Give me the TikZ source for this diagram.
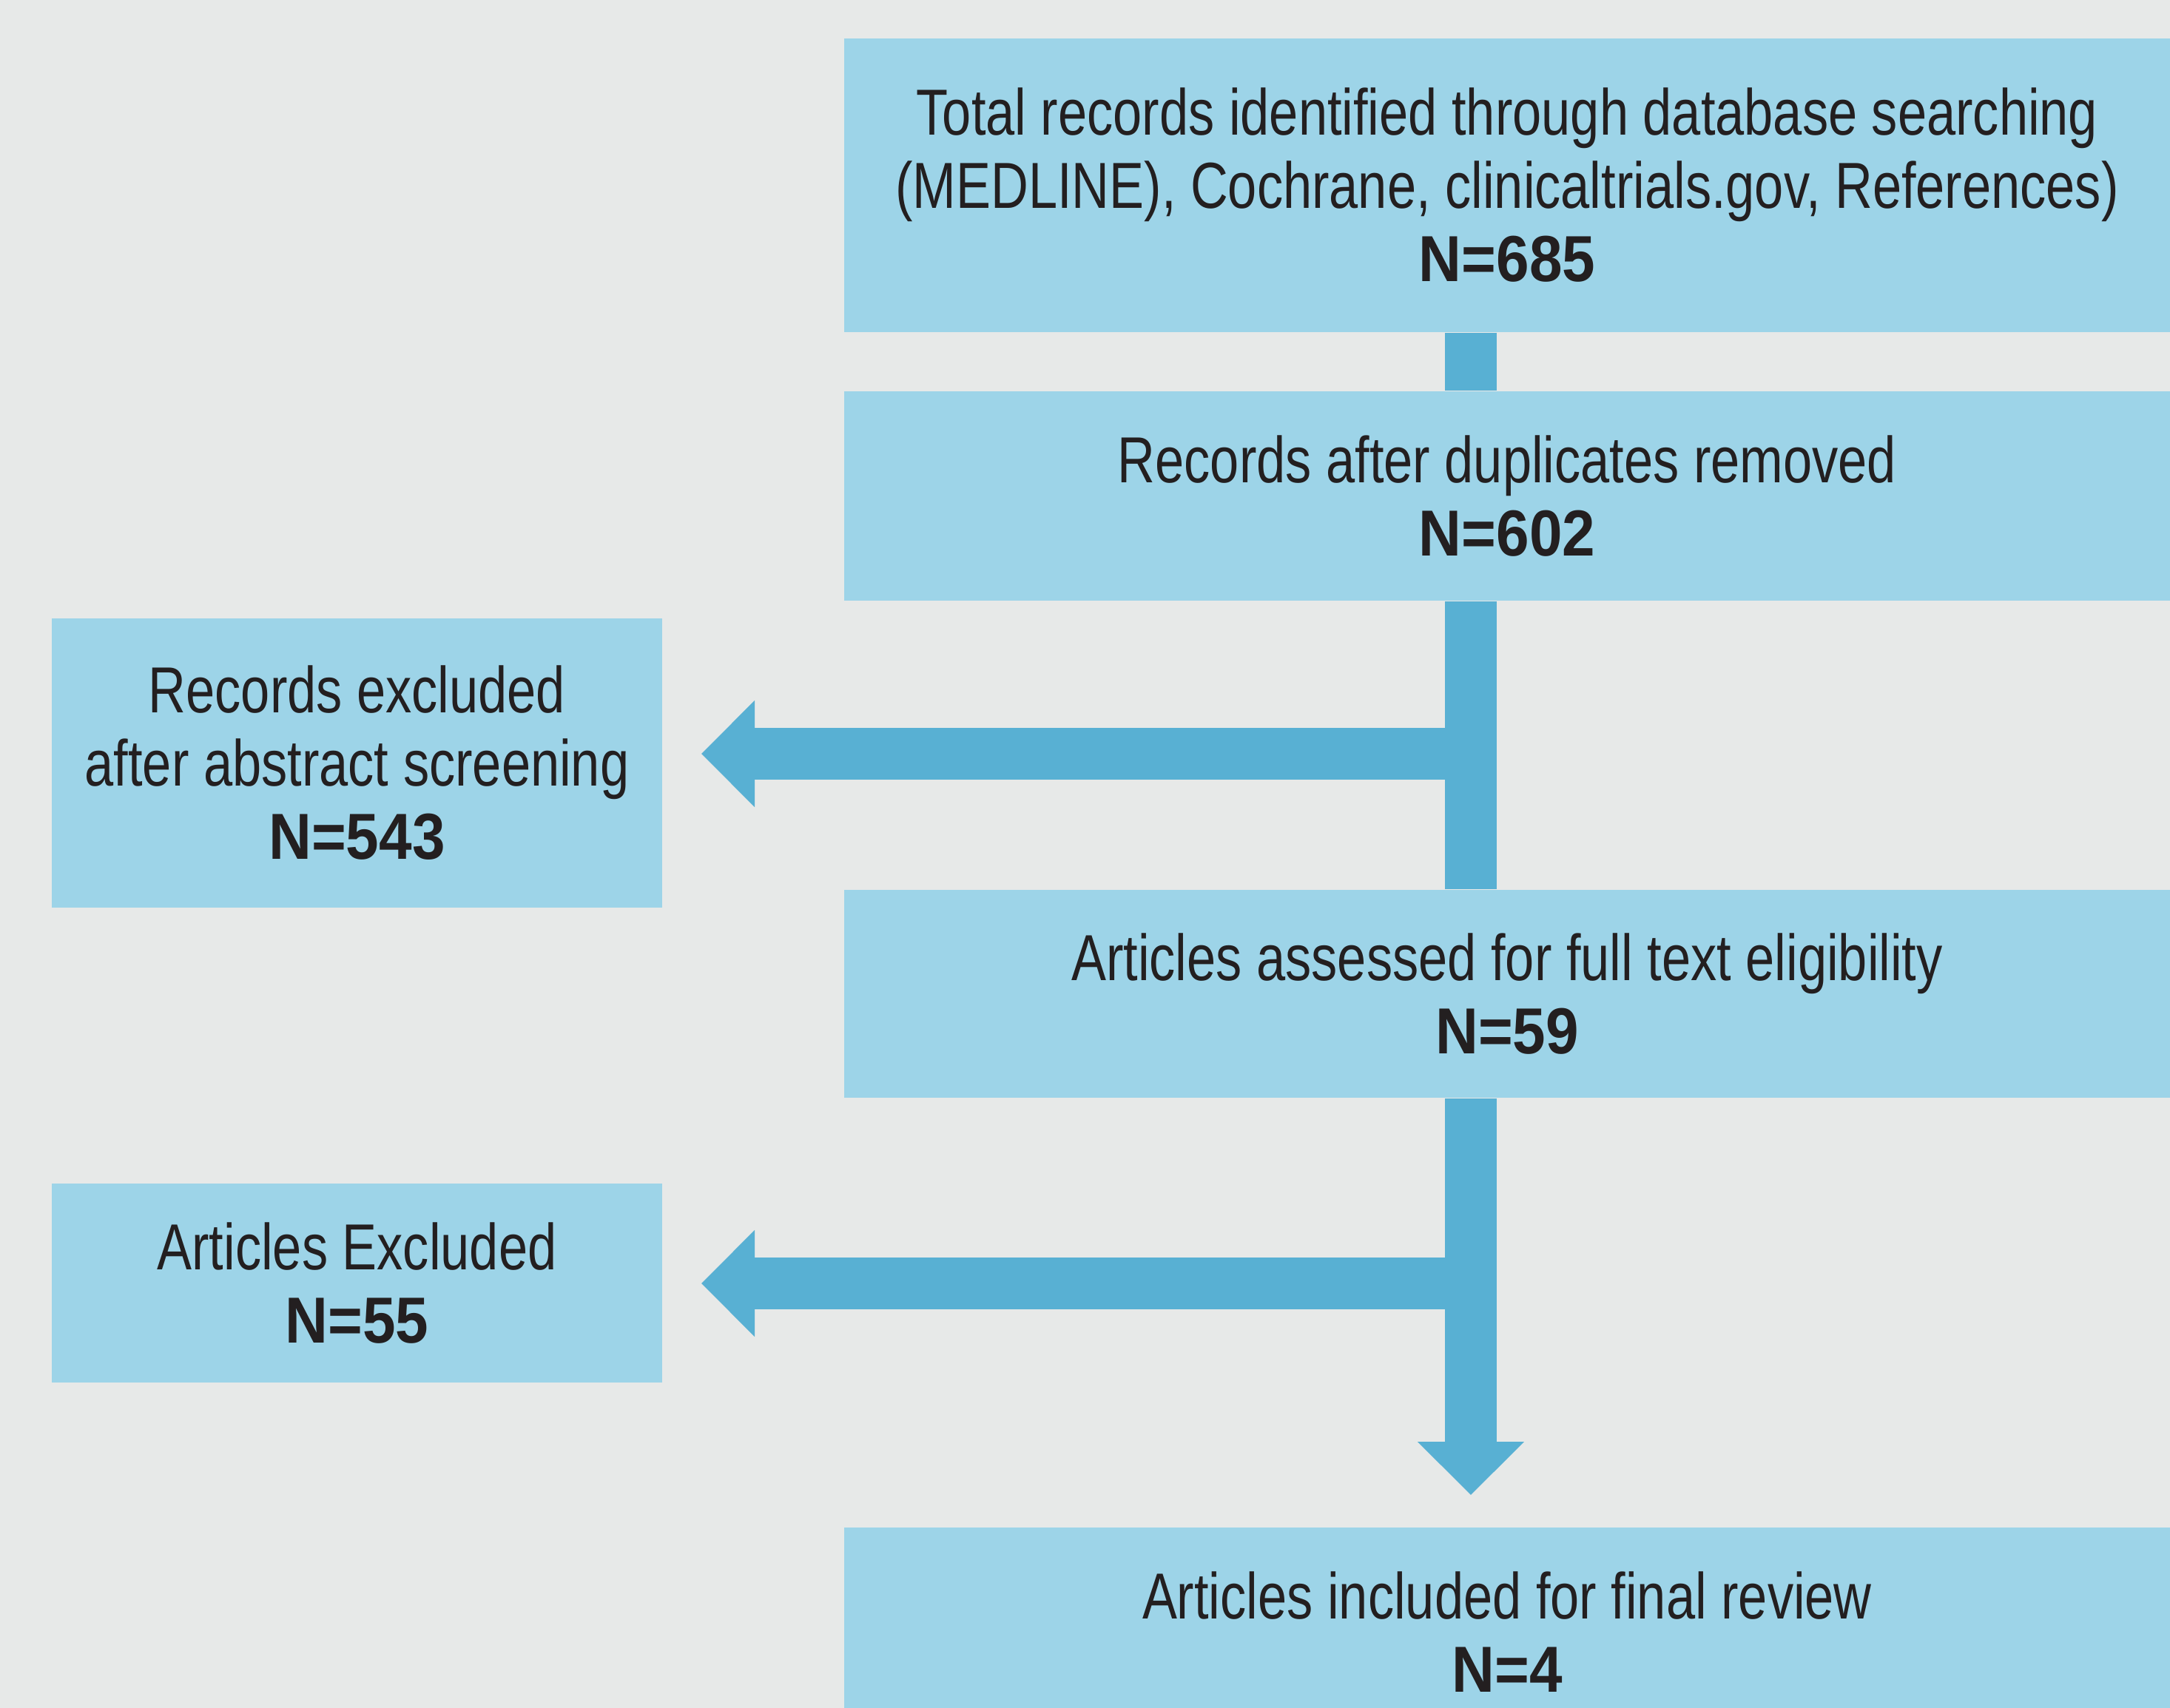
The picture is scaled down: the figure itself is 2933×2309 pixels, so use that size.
\documentclass[tikz,border=0pt]{standalone}
\usepackage{fontspec}
\setmainfont{Liberation Sans}[FakeStretch=0.80]
\newfontfamily\nbf{Liberation Sans}[FakeStretch=0.91]
\usetikzlibrary{fit,arrows.meta}
\definecolor{bg}{RGB}{231,233,232}
\definecolor{boxblue}{RGB}{157,212,232}
\definecolor{arrowblue}{RGB}{88,176,211}
\definecolor{textdark}{RGB}{35,31,32}
\tikzset{
  box/.style={fill=boxblue, draw=none, inner sep=0pt},
  lbl/.style={inner sep=0pt, align=center, text=textdark,
    font=\fontsize{22}{24.75}\selectfont},
  conn/.style={draw=arrowblue, line width=17.5pt, line cap=butt},
  headtip/.style={-{Triangle[width=35pt,length=18pt]}},
}
\newcommand{\bnum}[1]{{\nbf\bfseries #1}}
\begin{document}
\begin{tikzpicture}[x=0.25pt,y=-0.25pt]
\useasboundingbox (0,0) rectangle (2933,2309);
\clip (0,0) rectangle (2933,2309);
\fill[bg] (0,0) rectangle (2933,2309);

\node[box, fit={(1141,52) (2933,449)}] (top) {};
\node[box, fit={(1141,529) (2933,812)}] (dup) {};
\node[box, fit={(70,836) (895,1227)}] (excl1) {};
\node[box, fit={(1141,1203) (2933,1484)}] (assess) {};
\node[box, fit={(70,1600) (895,1869)}] (excl2) {};
\node[box, fit={(1141,2065) (2933,2347)}] (final) {};

\node[lbl] (topl) at (top.center) {Total records identified through database searching\\(MEDLINE), Cochrane, clinicaltrials.gov, References)\\\bnum{N=685}};
\node[lbl] (dupl) at (dup.center) {Records after duplicates removed\\\bnum{N=602}};
\node[lbl] (excl1l) at (excl1.center) {Records excluded\\after abstract screening\\\bnum{N=543}};
\node[lbl] (assessl) at (assess.center) {Articles assessed for full text eligibility\\\bnum{N=59}};
\node[lbl] (excl2l) at (excl2.center) {Articles Excluded\\\bnum{N=55}};
\node[lbl] (finall) at (final.center) {Articles included for final review\\\bnum{N=4}};

\coordinate (spine) at (1988,0);
\coordinate (j1) at (1988,1019);
\coordinate (t1) at (948,1019);
\coordinate (j2) at (1988,1735);
\coordinate (t2) at (948,1735);
\coordinate (t3) at (1988,2021);

\draw[conn] (top.south -| spine) -- (dup.north -| spine);
\draw[conn] (dup.south -| spine) -- (assess.north -| spine);
\draw[conn,headtip] (assess.south -| spine) -- (t3);
\draw[conn,headtip] (j1) -- (t1);
\draw[conn,headtip] (j2) -- (t2);
\end{tikzpicture}
\end{document}
